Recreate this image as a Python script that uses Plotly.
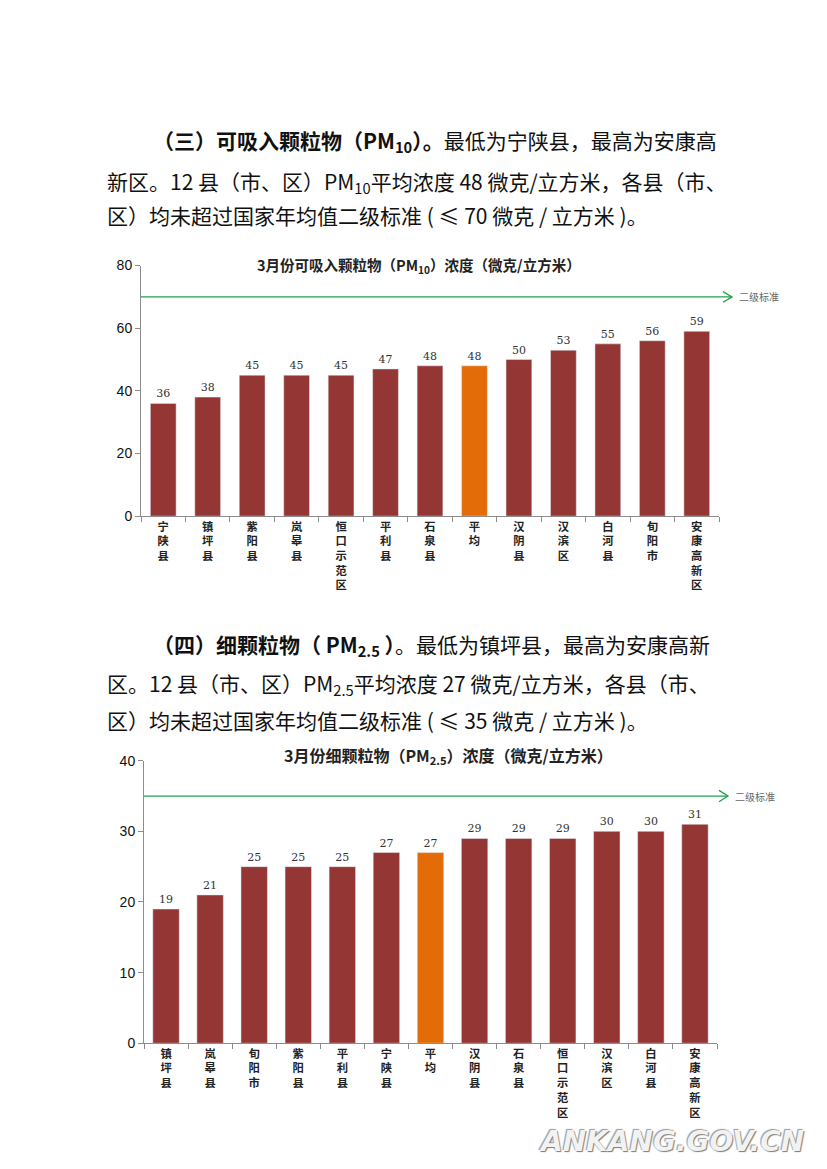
import plotly.graph_objects as go

W, H = 827, 1169

# PM10 chart data
pm10_names = ["宁陕县", "镇坪县", "紫阳县", "岚皋县", "恒口示范区", "平利县", "石泉县",
              "平均", "汉阴县", "汉滨区", "白河县", "旬阳市", "安康高新区"]
pm10_values = [36, 38, 45, 45, 45, 47, 48, 48, 50, 53, 55, 56, 59]
pm10_standard = 70
pm10_ticks = [0, 20, 40, 60, 80]

# PM2.5 chart data
pm25_names = ["镇坪县", "岚皋县", "旬阳市", "紫阳县", "平利县", "宁陕县", "平均",
              "汉阴县", "石泉县", "恒口示范区", "汉滨区", "白河县", "安康高新区"]
pm25_values = [19, 21, 25, 25, 25, 27, 27, 29, 29, 29, 30, 30, 31]
pm25_standard = 35
pm25_ticks = [0, 10, 20, 30, 40]

BAR = "#943634"
AVG = "#E36C09"
GREEN = "#22A04B"
SANS = "Noto Sans CJK SC"


# page pixel -> paper coords (small correction for how the page gets shot)
def px(x):
    return (x - 7) / W


def py(y):
    return 1 - ((y - 14) / 0.988) / H


def colors(names):
    return [AVG if n == "平均" else BAR for n in names]


def vertical(names):
    return ["<br>".join(n) for n in names]


fig = go.Figure()

fig.add_trace(go.Bar(x=pm10_names, y=pm10_values, marker_color=colors(pm10_names),
                     width=0.58, text=pm10_values, textposition="outside",
                     textfont=dict(size=11, color="#333", family="DejaVu Serif"),
                     cliponaxis=False, xaxis="x", yaxis="y"))
fig.add_trace(go.Bar(x=pm25_names, y=pm25_values, marker_color=colors(pm25_names),
                     width=0.6, text=pm25_values, textposition="outside",
                     textfont=dict(size=11, color="#333", family="DejaVu Serif"),
                     cliponaxis=False, xaxis="x2", yaxis="y2"))

xax = dict(type="category", showline=True, linecolor="#8c8c8c", linewidth=1,
           ticks="outside", tickson="boundaries", ticklen=5, tickcolor="#8c8c8c",
           tickfont=dict(size=11.3, color="#222", family=SANS, weight="bold"),
           showgrid=False, zeroline=False, fixedrange=True)
yax = dict(showline=True, linecolor="#8c8c8c", linewidth=1, ticks="outside",
           ticklen=5, tickcolor="#8c8c8c", showgrid=False, zeroline=False,
           tickfont=dict(size=14, color="#111", family="Liberation Sans"))

fig.update_layout(
    width=W, height=H, margin=dict(l=0, r=0, t=0, b=0),
    paper_bgcolor="white", plot_bgcolor="white", showlegend=False,
    xaxis=dict(xax, domain=[px(140), px(718)], anchor="y",
               tickmode="array", tickvals=pm10_names, ticktext=vertical(pm10_names)),
    yaxis=dict(yax, domain=[py(515), py(264)], anchor="x", range=[0, 80],
               tickvals=pm10_ticks),
    xaxis2=dict(xax, domain=[px(143), px(716)], anchor="y2",
                tickmode="array", tickvals=pm25_names, ticktext=vertical(pm25_names)),
    yaxis2=dict(yax, domain=[py(1043), py(760)], anchor="x2", range=[0, 40],
                tickvals=pm25_ticks),
)

# standard lines with open arrowheads
for ya, std, x0, x1, dy, lab_x in [("y", pm10_standard, 140, 731, 1.7, 736),
                                   ("y2", pm25_standard, 143, 727, 0.8, 732)]:
    fig.add_shape(type="line", xref="paper", yref=ya, x0=px(x0), x1=px(x1),
                  y0=std, y1=std, line=dict(color=GREEN, width=1.3))
    fig.add_shape(type="path", xref="paper", yref=ya,
                  path=f"M {px(x1 - 9)} {std + dy} L {px(x1)} {std} L {px(x1 - 9)} {std - dy}",
                  line=dict(color=GREEN, width=1.3))
    fig.add_annotation(x=px(lab_x), y=std, xref="paper", yref=ya, text="二级标准",
                       showarrow=False, xanchor="left", yanchor="middle",
                       font=dict(size=10, color="#666", family=SANS))

# chart titles
fig.add_annotation(x=px(418), y=py(264), xref="paper", yref="paper", showarrow=False,
                   xanchor="center", yanchor="middle",
                   text="<b>3月份可吸入颗粒物（PM<sub>10</sub>）浓度（微克/立方米）</b>",
                   font=dict(size=14.5, color="#222", family=SANS))
fig.add_annotation(x=px(447), y=py(755), xref="paper", yref="paper", showarrow=False,
                   xanchor="center", yanchor="middle",
                   text="<b>3月份细颗粒物（PM<sub>2.5</sub>）浓度（微克/立方米）</b>",
                   font=dict(size=16, color="#222", family=SANS))

# paragraph text
para = [
    (150, 139, "<b>（三）可吸入颗粒物（PM<sub>10</sub>）。</b>最低为宁陕县，最高为安康高"),
    (104, 180, "新区。12 县（市、区）PM<sub>10</sub>平均浓度 48 微克/立方米，各县（市、"),
    (104, 213, "区）均未超过国家年均值二级标准 ( ≤ 70 微克 / 立方米 )。"),
    (150, 644, "<b>（四）细颗粒物（ PM<sub>2.5</sub> ）</b>。最低为镇坪县，最高为安康高新"),
    (104, 683, "区。12 县（市、区）PM<sub>2.5</sub>平均浓度 27 微克/立方米，各县（市、"),
    (104, 719, "区）均未超过国家年均值二级标准 ( ≤ 35 微克 / 立方米 )。"),
]
for x, y, t in para:
    fig.add_annotation(x=px(x), y=py(y), xref="paper", yref="paper", showarrow=False,
                       xanchor="left", yanchor="middle", text=t,
                       font=dict(size=21, color="#111", family=SANS))

# watermark
fig.add_annotation(x=px(805), y=py(1141), xref="paper", yref="paper", showarrow=False,
                   xanchor="right", yanchor="middle", text="<i><b>ANKANG.GOV.CN</b></i>",
                   font=dict(size=28, color="#f2f2f2", family="DejaVu Sans",
                             shadow="1px 1px 1px #777, -1px -1px 1px #999"))

fig.write_html("out.html")
